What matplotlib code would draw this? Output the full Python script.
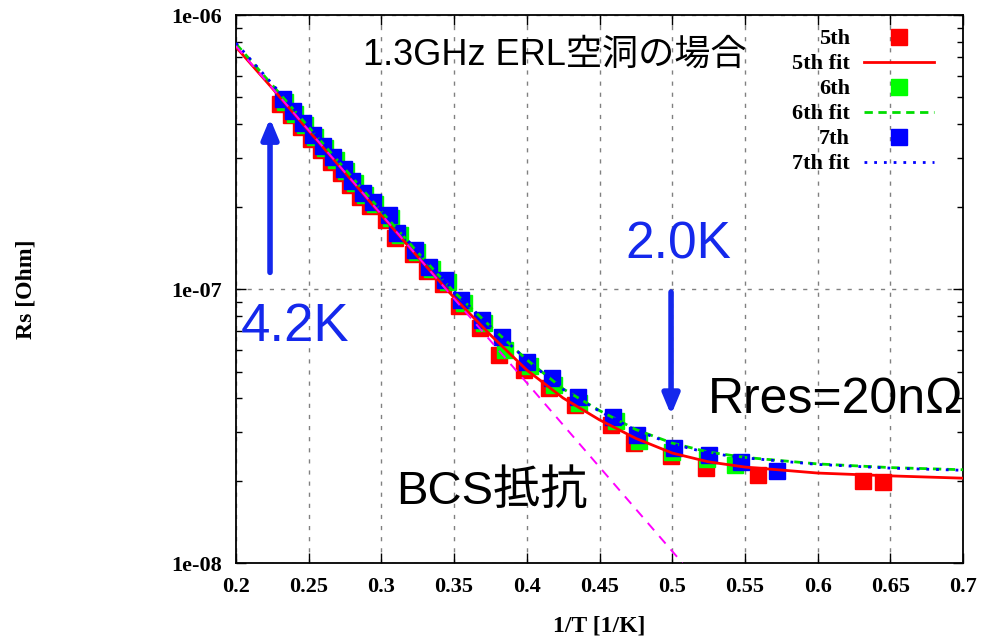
import matplotlib
matplotlib.use("Agg")
import matplotlib.pyplot as plt
from matplotlib.ticker import FixedLocator, FixedFormatter, LogLocator, NullFormatter

# measured points (1/T [1/K], Rs [Ohm])
x_5th = [0.2305, 0.2375, 0.2445, 0.2515, 0.2585, 0.2655, 0.2725, 0.2785, 0.2855, 0.2925,
         0.3035, 0.3095, 0.3215, 0.3315, 0.3425, 0.3535, 0.3675, 0.381, 0.398, 0.415,
         0.433, 0.458, 0.474, 0.499, 0.523, 0.559, 0.631, 0.645]
rs_5th = [4.75e-7, 4.30e-7, 3.90e-7, 3.53e-7, 3.21e-7, 2.91e-7, 2.64e-7, 2.39e-7, 2.17e-7, 2.01e-7,
          1.79e-7, 1.54e-7, 1.34e-7, 1.16e-7, 1.04e-7, 8.70e-8, 7.20e-8, 5.74e-8, 5.06e-8, 4.35e-8,
          3.78e-8, 3.19e-8, 2.74e-8, 2.46e-8, 2.22e-8, 2.09e-8, 1.99e-8, 1.98e-8]

x_6th = [0.2335, 0.2405, 0.2475, 0.2545, 0.2615, 0.2685, 0.2755, 0.2815, 0.2885, 0.2955,
         0.3065, 0.3125, 0.3245, 0.3345, 0.3455, 0.3565, 0.3705, 0.385, 0.402, 0.419,
         0.436, 0.461, 0.477, 0.500, 0.524, 0.543]
rs_6th = [4.82e-7, 4.37e-7, 3.96e-7, 3.59e-7, 3.26e-7, 2.96e-7, 2.69e-7, 2.43e-7, 2.21e-7, 2.04e-7,
          1.82e-7, 1.57e-7, 1.36e-7, 1.18e-7, 1.06e-7, 8.90e-8, 7.50e-8, 5.98e-8, 5.24e-8, 4.47e-8,
          3.84e-8, 3.30e-8, 2.80e-8, 2.54e-8, 2.40e-8, 2.28e-8]

x_7th = [0.232, 0.239, 0.246, 0.253, 0.260, 0.267, 0.274, 0.280, 0.287, 0.294,
         0.305, 0.311, 0.323, 0.333, 0.344, 0.355, 0.369, 0.383, 0.400, 0.417,
         0.435, 0.459, 0.476, 0.501, 0.525, 0.547, 0.572]
rs_7th = [4.92e-7, 4.46e-7, 4.04e-7, 3.66e-7, 3.33e-7, 3.02e-7, 2.74e-7, 2.48e-7, 2.25e-7, 2.08e-7,
          1.86e-7, 1.60e-7, 1.39e-7, 1.20e-7, 1.08e-7, 9.10e-8, 7.70e-8, 6.70e-8, 5.42e-8, 4.73e-8,
          4.03e-8, 3.41e-8, 2.93e-8, 2.63e-8, 2.48e-8, 2.34e-8, 2.17e-8]

# fit curves
x_fit = [0.200, 0.225, 0.250, 0.275, 0.300, 0.325, 0.350, 0.375, 0.400, 0.425,
         0.450, 0.475, 0.500, 0.525, 0.550, 0.600, 0.650, 0.700]
fit_5th = [7.64e-7, 5.40e-7, 3.78e-7, 2.66e-7, 1.86e-7, 1.31e-7, 9.30e-8, 6.80e-8, 5.06e-8, 4.00e-8,
           3.33e-8, 2.85e-8, 2.52e-8, 2.34e-8, 2.24e-8, 2.13e-8, 2.08e-8, 2.04e-8]
fit_6th = [7.85e-7, 5.55e-7, 3.90e-7, 2.74e-7, 1.92e-7, 1.36e-7, 9.75e-8, 7.30e-8, 5.52e-8, 4.32e-8,
           3.60e-8, 3.07e-8, 2.74e-8, 2.54e-8, 2.43e-8, 2.30e-8, 2.23e-8, 2.19e-8]
fit_7th = [7.90e-7, 5.60e-7, 3.92e-7, 2.75e-7, 1.93e-7, 1.37e-7, 9.80e-8, 7.30e-8, 5.50e-8, 4.30e-8,
           3.58e-8, 3.05e-8, 2.72e-8, 2.52e-8, 2.42e-8, 2.29e-8, 2.22e-8, 2.18e-8]

# BCS part only (straight line on the log axis)
x_bcs = [0.200, 0.507]
rs_bcs = [7.70e-7, 1.0e-8]

x_ticks = [0.2, 0.25, 0.3, 0.35, 0.4, 0.45, 0.5, 0.55, 0.6, 0.65, 0.7]
x_ticklabels = ["0.2", "0.25", "0.3", "0.35", "0.4", "0.45", "0.5", "0.55", "0.6", "0.65", "0.7"]
y_ticks = [1e-8, 1e-7, 1e-6]
y_ticklabels = ["1e-08", "1e-07", "1e-06"]

SERIF = "Liberation Serif"
SANS = ["Liberation Sans", "Noto Sans CJK JP", "DejaVu Sans"]
TXT_BLUE = "#1428ec"


def make_plot():
    fig = plt.figure(figsize=(9.92, 6.39), dpi=100)
    ax = fig.add_axes([0.2379, 0.1189, 0.7329, 0.8576])

    ax.set_yscale("log")
    ax.set_xlim(0.2, 0.7)
    ax.set_ylim(1e-8, 1e-6)

    ax.plot(x_bcs, rs_bcs, color="#ff00ff", lw=1.4, linestyle=(0, (5, 4)), zorder=6)

    ax.plot(x_5th, rs_5th, linestyle="none", marker="s", ms=11, color="#ff0000",
            mec="#ff0000", label="5th", zorder=3)
    ax.plot(x_fit, fit_5th, color="#ff0000", lw=2, label="5th fit", zorder=4)
    ax.plot(x_6th, rs_6th, linestyle="none", marker="s", ms=11, color="#00ff00",
            mec="#00ff00", label="6th", zorder=3)
    ax.plot(x_fit, fit_6th, color="#00dd00", lw=2, linestyle=(0, (3, 2)), label="6th fit", zorder=4)
    ax.plot(x_7th, rs_7th, linestyle="none", marker="s", ms=11, color="#0000ff",
            mec="#0000ff", label="7th", zorder=3)
    ax.plot(x_fit, fit_7th, color="#0000ff", lw=2, linestyle=(0, (1, 2.5)), label="7th fit", zorder=4)

    ax.xaxis.set_major_locator(FixedLocator(x_ticks))
    ax.xaxis.set_major_formatter(FixedFormatter(x_ticklabels))
    ax.yaxis.set_major_locator(FixedLocator(y_ticks))
    ax.yaxis.set_major_formatter(FixedFormatter(y_ticklabels))
    ax.yaxis.set_minor_locator(LogLocator(base=10, subs=range(2, 10)))
    ax.yaxis.set_minor_formatter(NullFormatter())

    ax.tick_params(which="both", direction="in", top=True, right=True, color="black")
    ax.tick_params(which="major", length=7, width=1, pad=10)
    ax.tick_params(which="minor", length=4, width=1)
    for lab in ax.get_xticklabels() + ax.get_yticklabels():
        lab.set_fontfamily(SERIF)
        lab.set_fontweight("bold")
        lab.set_fontsize(16)

    for sp in ax.spines.values():
        sp.set_linewidth(1.3)

    ax.grid(True, which="major", color="#808080", lw=1, linestyle=(0, (3, 5)))

    ax.set_xlabel("1/T [1/K]", fontfamily=SERIF, fontweight="bold", fontsize=17)
    ax.set_ylabel("Rs [Ohm]", fontfamily=SERIF, fontweight="bold", fontsize=17)
    ax.xaxis.set_label_coords(0.5, -0.095)
    ax.yaxis.set_label_coords(-0.275, 0.5)

    leg = ax.legend(loc="upper right", bbox_to_anchor=(0.979, 1.0), frameon=False,
                    markerfirst=False, handlelength=3.15, handletextpad=0.63,
                    labelspacing=0.2, borderpad=0.12,
                    prop={"family": SERIF, "weight": "bold", "size": 16})
    leg.set_zorder(10)

    # annotations
    ax.text(0.439, 0.927, "1.3GHz ERL空洞の場合", transform=ax.transAxes,
            ha="center", va="center", fontsize=26, family=SANS, color="black")
    ax.text(0.081, 0.431, "4.2K", transform=ax.transAxes,
            ha="center", va="center", fontsize=38, family=SANS, color=TXT_BLUE)
    ax.text(0.608, 0.580, "2.0K", transform=ax.transAxes,
            ha="center", va="center", fontsize=37, family=SANS, color=TXT_BLUE)
    ax.text(0.825, 0.297, "Rres=20nΩ", transform=ax.transAxes,
            ha="center", va="center", fontsize=36, family=SANS, color="black")
    ax.text(0.352, 0.130, "BCS抵抗", transform=ax.transAxes,
            ha="center", va="center", fontsize=34, family=SANS, color="black")

    ax.annotate("", xy=(0.2234, 4.2e-7), xytext=(0.2234, 1.15e-7),
                arrowprops=dict(arrowstyle="-|>,head_length=1.2,head_width=0.5",
                                color=TXT_BLUE, lw=4, shrinkA=0, shrinkB=0), zorder=7)
    ax.annotate("", xy=(0.4992, 3.47e-8), xytext=(0.4992, 9.75e-8),
                arrowprops=dict(arrowstyle="-|>,head_length=1.2,head_width=0.5",
                                color=TXT_BLUE, lw=4, shrinkA=0, shrinkB=0), zorder=7)

    fig.savefig("out.png", dpi=100)


if __name__ == "__main__":
    make_plot()
